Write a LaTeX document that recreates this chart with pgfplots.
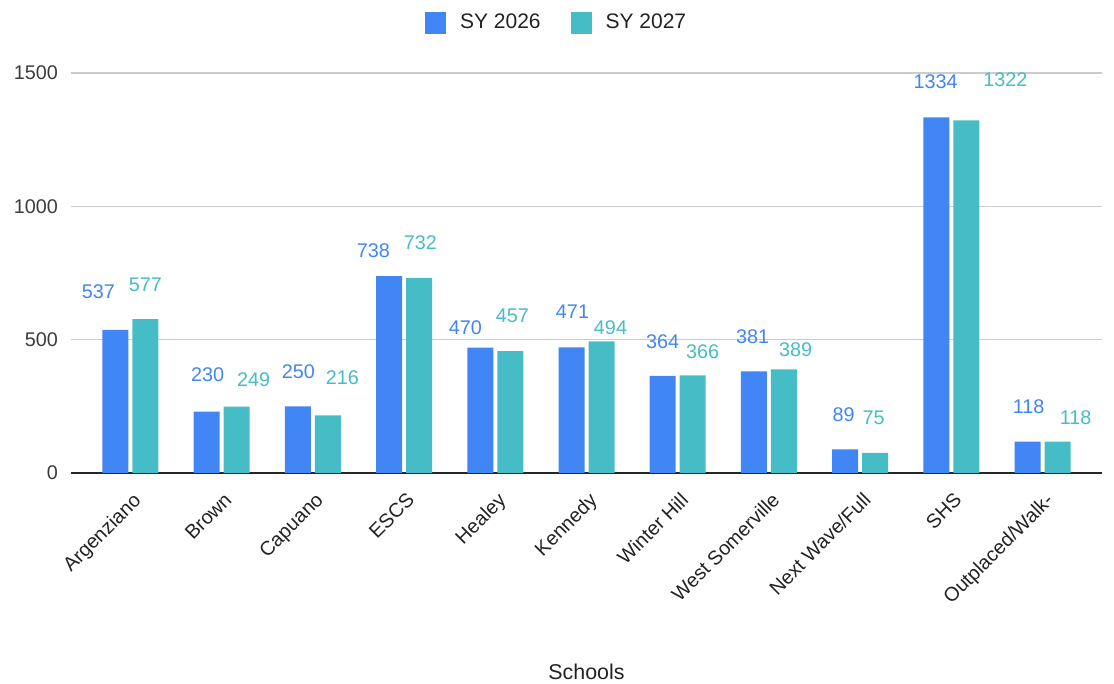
\documentclass[border=0pt]{standalone}
\usepackage{pgfplots}
\pgfplotsset{compat=1.18}
\usepackage{pgfplotstable}
\usepackage{fontspec}
\setmainfont{Liberation Sans}
\definecolor{sya}{HTML}{4285F4}
\definecolor{syb}{HTML}{46BDC6}
\definecolor{txt}{HTML}{222222}
\definecolor{ytxt}{HTML}{3C3C3C}

% x = category index, y = value, dx/dy = label offset (pt) from bar top
\pgfplotstableread{
x y dx dy
0 537 -8.5 18.9
1 230 0.5 18.4
2 250 0.3 17.2
3 738 -7.8 13
4 470 -7.4 10.2
5 471 0.5 17.7
6 364 0 17
7 381 -0.7 17.2
8 89 -0.8 17.2
9 1334 -0.4 17.7
10 118 0.5 17.3
}\dataA

\pgfplotstableread{
x y dx dy
0 577 0 17
1 249 8.5 13.3
2 216 7.3 18.7
3 732 0.7 17.4
4 457 1.1 17.5
5 494 4.5 6.8
6 366 5 11.7
7 389 5.8 9.7
8 75 -0.8 17.5
9 1322 19.5 20.3
10 118 9 11.8
}\dataB

\begin{document}
\begin{tikzpicture}
\useasboundingbox (-35.5pt,-105.5pt) rectangle (521.5pt,236.5pt);
\begin{axis}[
  at={(0pt,0pt)}, anchor=south west,
  scale only axis, width=515.5pt, height=200pt,
  ybar=2pt, bar width=13pt,
  xmin=-0.65, xmax=10.65, ymin=0, ymax=1500,
  xtick={0,...,10},
  xticklabels={Argenziano,Brown,Capuano,ESCS,Healey,Kennedy,Winter Hill,West Somerville,Next Wave/Full,SHS,Outplaced/Walk-},
  ytick={0,500,1000,1500},
  major tick length=0pt,
  ymajorgrids, major grid style={draw=black!20, line width=0.6pt},
  axis lines*=left,
  y axis line style={draw=none},
  x axis line style={draw=black!85, line width=0.7pt, -},
  /pgf/number format/assume math mode=true,
  /pgf/number format/1000 sep={},
  ticklabel style={font=\fontsize{9.9}{11}\selectfont},
  yticklabel style={text=ytxt, xshift=-3pt},
  xticklabel style={rotate=45, anchor=north east, text=txt, xshift=-2.5pt, yshift=-3.6pt},
  xlabel={Schools},
  xlabel style={at={(axis description cs:0.5,-0.497)}, anchor=center, font=\fontsize{10.7}{12}\selectfont, text=txt},
  legend style={at={(0.472,1.126)}, anchor=center, draw=none, fill=none,
    legend columns=2, font=\fontsize{10.5}{12}\selectfont, text=txt,
    /tikz/every odd column/.append style={column sep=5pt},
    /tikz/every even column/.append style={column sep=13pt}},
  legend image code/.code={\fill[#1] (0pt,-5.5pt) rectangle (10.5pt,5.5pt);},
  nodes near coords,
  visualization depends on={\thisrow{dx} \as \dx},
  visualization depends on={\thisrow{dy} \as \dy},
  nodes near coords style={anchor=center, xshift=\dx pt, yshift=\dy pt, font=\fontsize{9.9}{11}\selectfont},
]
\addplot[fill=sya, draw=none, nodes near coords style={text=sya}] table[x=x,y=y] {\dataA};
\addplot[fill=syb, draw=none, nodes near coords style={text=syb}] table[x=x,y=y] {\dataB};
\legend{SY 2026, SY 2027}
\end{axis}
\end{tikzpicture}
\end{document}
